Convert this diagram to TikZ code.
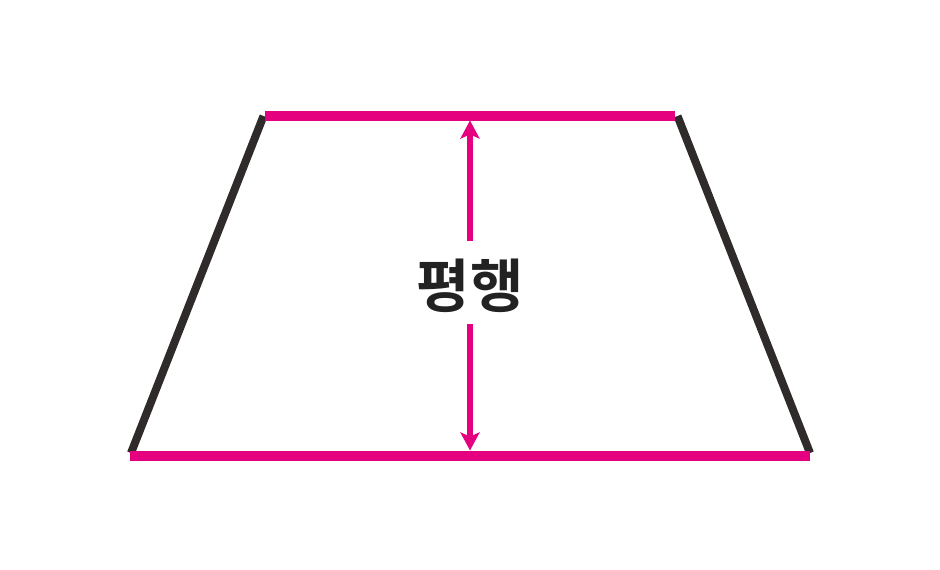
\documentclass[tikz,border=0pt]{standalone}
\usepackage{fontspec}
\newfontfamily\krfont{Noto Sans CJK KR Bold}
\usetikzlibrary{arrows.meta}
\definecolor{pinkc}{RGB}{228,0,127}
\definecolor{darkc}{RGB}{47,43,43}
\definecolor{textc}{RGB}{34,34,34}
\tikzset{
  parline/.style={draw=pinkc,line width=10pt},
  sideline/.style={draw=darkc,line width=8pt},
  heightarrow/.style={draw=pinkc,line width=6pt,-{Stealth[length=18pt,width=19pt,inset=4pt]}},
  lbl/.style={font=\krfont\fontsize{58pt}{60pt}\selectfont,text=textc,inner sep=0pt}
}
\begin{document}
\begin{tikzpicture}[x=1pt,y=-1pt]
\useasboundingbox (0,0) rectangle (940,570);
\coordinate (TL) at (265,115.5);
\coordinate (TR) at (675,115.5);
\coordinate (BL) at (130,455.5);
\coordinate (BR) at (810,455.5);
\coordinate (LT) at (263.5,116);
\coordinate (LB) at (131,453);
\coordinate (RT) at (677.5,116);
\coordinate (RB) at (810,453);
\draw[sideline] (LT) -- (LB);
\draw[sideline] (RT) -- (RB);
\draw[parline] (TL) -- (TR);
\draw[parline] (BL) -- (BR);
\node[lbl] (label) at (470,286) {평행};
\coordinate (gapT) at (470,241);
\coordinate (gapB) at (470,324);
\coordinate (tipT) at (470,120.5);
\coordinate (tipB) at (470,450.5);
\draw[heightarrow] (gapT) -- (tipT);
\draw[heightarrow] (gapB) -- (tipB);
\end{tikzpicture}
\end{document}
